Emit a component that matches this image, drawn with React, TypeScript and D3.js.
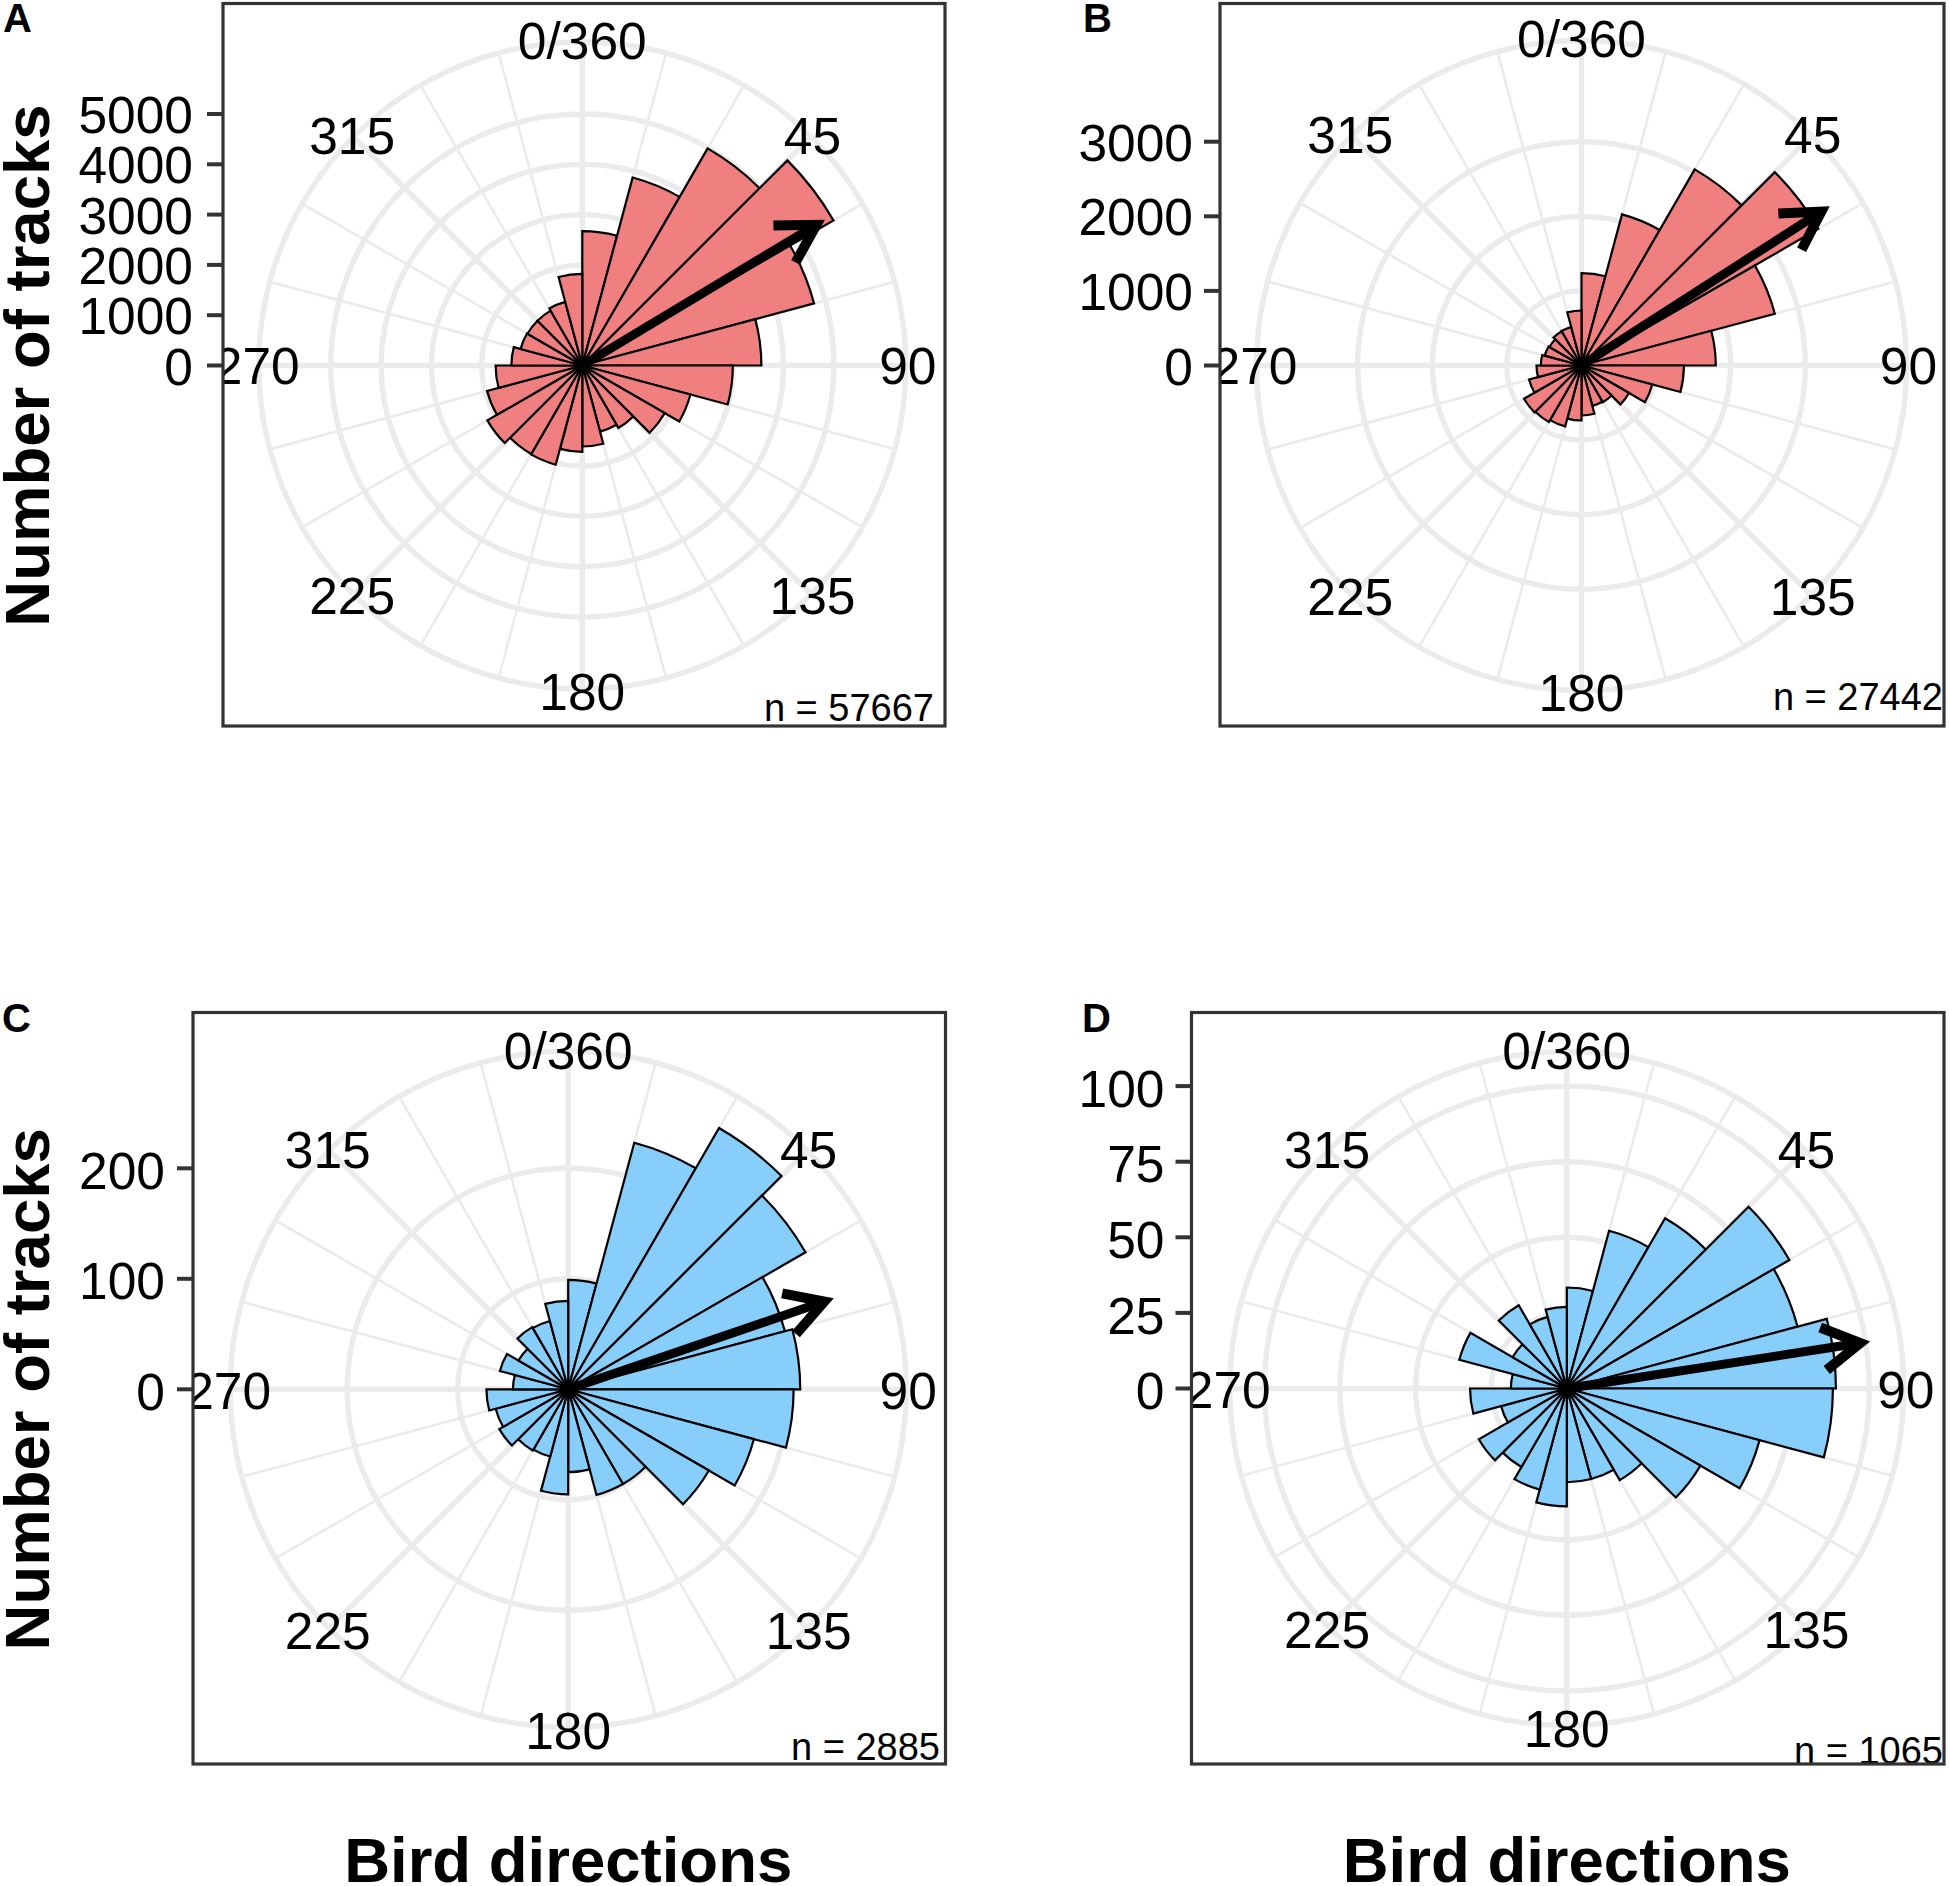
import React from "react";
import * as d3 from "d3";

// ---- data (counts per 15 degree bin, clockwise from north)
const tracksA = [2670, 3870, 4985, 5767, 4770, 3560, 2993, 2225, 1893, 1433, 1360, 1610, 1716, 2040, 2030, 2180, 1960, 1723, 1410, 1270, 1260, 1260, 1310, 1822];
const tracksB = [1238, 2097, 3036, 3665, 2683, 1800, 1373, 982, 737, 570, 560, 670, 737, 845, 875, 890, 728, 603, 545, 510, 496, 530, 535, 737];
const tracksC = [99, 231, 273, 248, 203, 210, 204, 174, 147, 99, 99, 75, 95, 63, 64, 72, 68, 74, 50, 64, 52, 65, 64, 80];
const tracksD = [33.4, 54, 65, 85, 79, 89, 88, 66, 51, 35, 31, 31, 39, 34.6, 30, 33.6, 22.5, 32, 18.5, 36.8, 20.7, 31.8, 24.5, 27];

const ticksA = [0, 1000, 2000, 3000, 4000, 5000];
const ticksB = [0, 1000, 2000, 3000];
const ticksC = [0, 100, 200];
const ticksD = [0, 25, 50, 75, 100];

const meanA = { deg: 59, len: 5430 };
const meanB = { deg: 57.3, len: 3820 };
const meanC = { deg: 71.1, len: 245 };
const meanD = { deg: 81.2, len: 98.2 };

const nLabels = ["n = 57667", "n = 27442", "n = 2885", "n = 1065"];
const panelLetters = ["A", "B", "C", "D"];
const dirLabels: [number, string][] = [[0, "0/360"], [45, "45"], [90, "90"], [135, "135"], [180, "180"], [225, "225"], [270, "270"], [315, "315"]];
const spokes = d3.range(0, 360, 15);

const PINK = "#F08080";
const BLUE = "#87CEFA";
const GRID = "#EBEBEB";
const FONT = "'Liberation Sans', Arial, sans-serif";

// ---- layout
const layouts = [
  { values: tracksA, ticks: ticksA, mean: meanA, fill: PINK, l: 223, r: 945, t: 3.5, b: 726, cx: 582.3, cy: 365.5, R: 323.5, unit: 50.3 / 1000, nX: 934, nY: 721, letterX: 3, letterY: 31.7, tickGap: 30, tickDy: "0.37em", dirDy: "0.36em", yTitle: true, xTitle: false },
  { values: tracksB, ticks: ticksB, mean: meanB, fill: PINK, l: 1220, r: 1944, t: 3.5, b: 726, cx: 1581.5, cy: 365.5, R: 325, unit: 74.6 / 1000, nX: 1943, nY: 710, letterX: 1083, letterY: 31.7, tickGap: 27, tickDy: "0.37em", dirDy: "0.36em", yTitle: false, xTitle: false },
  { values: tracksC, ticks: ticksC, mean: meanC, fill: BLUE, l: 193, r: 945.5, t: 1012.5, b: 1764, cx: 568.2, cy: 1389.3, R: 338, unit: 110.5 / 100, nX: 940, nY: 1760, letterX: 2, letterY: 1032, tickGap: 28, tickDy: "0.4em", dirDy: "0.38em", yTitle: true, xTitle: true },
  { values: tracksD, ticks: ticksD, mean: meanD, fill: BLUE, l: 1191.5, r: 1944, t: 1012.5, b: 1764, cx: 1566.8, cy: 1388.5, R: 337, unit: 75.6 / 25, nX: 1943, nY: 1764, letterX: 1082, letterY: 1032, tickGap: 27, tickDy: "0.4em", dirDy: "0.38em", yTitle: false, xTitle: true },
];

const toRad = d3.scaleLinear().domain([0, 360]).range([0, 2 * Math.PI]);

function Panel({ p, idx }: { p: (typeof layouts)[number]; idx: number }) {
  const rScale = d3.scaleLinear().domain([0, p.R / p.unit]).range([0, p.R]);
  const arc = d3.arc<number>()
    .innerRadius(0)
    .outerRadius((d) => rScale(d))
    .startAngle((_, i) => toRad(i * 15))
    .endAngle((_, i) => toRad((i + 1) * 15));
  const polar = (deg: number, r: number): [number, number] => [
    p.cx + r * Math.sin(toRad(deg)),
    p.cy - r * Math.cos(toRad(deg)),
  ];
  const rings = [...p.ticks.filter((t) => t > 0).map((t) => rScale(t)), p.R];
  const tip = polar(p.mean.deg, rScale(p.mean.len));
  const barb = (off: number): [number, number] => {
    const a = toRad(p.mean.deg + 180 + off);
    return [tip[0] + 43 * Math.sin(a), tip[1] - 43 * Math.cos(a)];
  };
  const clipId = `panel-clip-${idx}`;
  return (
    <g>
      <defs>
        <clipPath id={clipId}>
          <rect x={p.l} y={p.t} width={p.r - p.l} height={p.b - p.t} />
        </clipPath>
      </defs>
      <rect x={p.l} y={p.t} width={p.r - p.l} height={p.b - p.t} fill="#fff" />
      {spokes.map((s) => {
        const e = polar(s, p.R);
        return <line key={s} x1={p.cx} y1={p.cy} x2={e[0]} y2={e[1]} stroke={GRID} strokeWidth={s % 45 === 0 ? 5.4 : 2.6} />;
      })}
      {rings.map((r, i) => (
        <circle key={i} cx={p.cx} cy={p.cy} r={r} fill="none" stroke={GRID} strokeWidth={5.4} />
      ))}
      <g transform={`translate(${p.cx},${p.cy})`}>
        {p.values.map((v, i) => (
          <path key={i} d={arc(v, i) as string} fill={p.fill} stroke="#000" strokeWidth={2.2} strokeLinejoin="miter" />
        ))}
      </g>
      <line x1={p.cx} y1={p.cy} x2={tip[0]} y2={tip[1]} stroke="#000" strokeWidth={9} />
      <polyline points={[barb(-30), tip, barb(30)].map((q) => q.join(",")).join(" ")} fill="none" stroke="#000" strokeWidth={10} strokeLinejoin="miter" />
      <circle cx={p.cx} cy={p.cy} r={8} fill="#000" />
      <g clipPath={`url(#${clipId})`}>
        {dirLabels.map(([deg, label]) => {
          const q = polar(deg, p.R + 2);
          return (
            <text key={deg} x={q[0]} y={q[1]} dy={p.dirDy} textAnchor="middle" fontSize={51.5} fontFamily={FONT} fill="#000">{label}</text>
          );
        })}
        <text x={p.nX} y={p.nY} textAnchor="end" fontSize={38} fontFamily={FONT} fill="#000">{nLabels[idx]}</text>
      </g>
      <rect x={p.l} y={p.t} width={p.r - p.l} height={p.b - p.t} fill="none" stroke="#333" strokeWidth={3.2} />
      {p.ticks.map((t) => {
        const y = p.cy - rScale(t);
        return (
          <g key={t}>
            <line x1={p.l - 16} x2={p.l} y1={y} y2={y} stroke="#333" strokeWidth={4} />
            <text x={p.l - p.tickGap} y={y} dy={p.tickDy} textAnchor="end" fontSize={51.5} fontFamily={FONT} fill="#000">{t}</text>
          </g>
        );
      })}
      <text x={p.letterX} y={p.letterY} fontSize={40} fontWeight="bold" fontFamily={FONT} fill="#000">{panelLetters[idx]}</text>
      {p.yTitle && (
        <text transform={`translate(49,${p.cy}) rotate(-90)`} textAnchor="middle" fontSize={63.5} fontWeight="bold" fontFamily={FONT} fill="#000">Number of tracks</text>
      )}
      {p.xTitle && (
        <text x={p.cx} y={1882} textAnchor="middle" fontSize={63.5} fontWeight="bold" fontFamily={FONT} fill="#000">Bird directions</text>
      )}
    </g>
  );
}

export default function App() {
  return (
    <svg width={1950} height={1886} viewBox="0 0 1950 1886" style={{ position: "absolute", left: 0, top: 0, display: "block", background: "#fff" }}>
      {layouts.map((p, i) => (
        <Panel key={i} p={p} idx={i} />
      ))}
    </svg>
  );
}
